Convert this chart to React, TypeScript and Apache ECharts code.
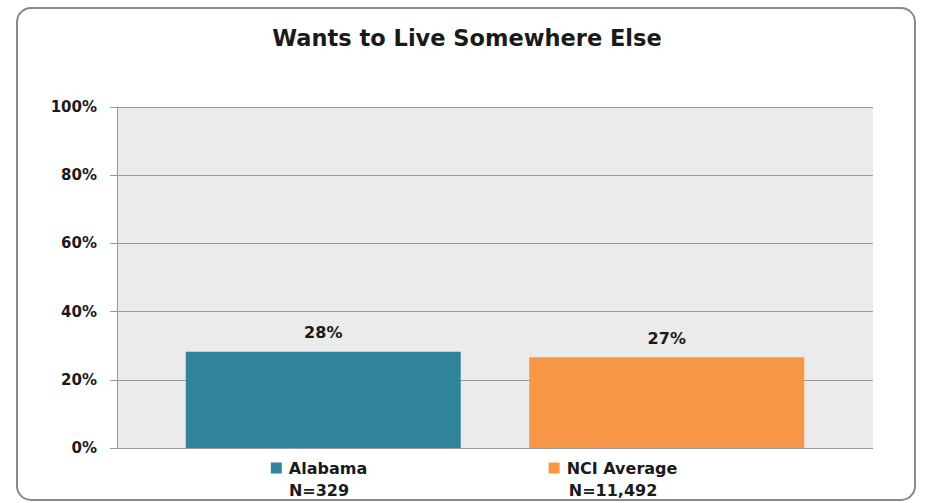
import React, { useEffect, useRef } from "react";
import * as echarts from "echarts";

const categories = ["Alabama", "NCI Average"];
const sampleSizes = ["329", "11,492"];
const values = [28.2, 26.6];
const barColors = ["#31849B", "#F79646"];
const yTicks = [0, 20, 40, 60, 80, 100];

const FONT = "'DejaVu Sans', 'Liberation Sans', sans-serif";
const TXT = "#1a1a1a";

export default function App() {
  const ref = useRef<HTMLDivElement>(null);
  useEffect(() => {
    if (!ref.current) return;
    const chart = echarts.init(ref.current, null, { renderer: "svg" });
    chart.setOption({
      animation: false,
      backgroundColor: "#ffffff",
      title: {
        text: "Wants to Live Somewhere Else",
        left: 462,
        top: 21,
        textAlign: "center",
        textStyle: { fontFamily: FONT, fontWeight: "bold", fontSize: 22.5, color: TXT },
      },
      graphic: [
        {
          type: "rect",
          shape: { x: 17, y: 8, width: 898, height: 492, r: 14 },
          style: { fill: "none", stroke: "#8a8a8a", lineWidth: 2 },
          silent: true,
          z: -1,
        },
      ],
      grid: [
        { left: 117, right: 53, top: 107, bottom: 55, show: true, backgroundColor: "#EBEBEB", borderWidth: 0 },
        { left: 151.5, right: 87.5, top: 107, bottom: 55 },
        { left: 172, right: 166, top: 107, bottom: 55 },
      ],
      xAxis: [
        { type: "value", gridIndex: 0, show: false, min: 0, max: 1 },
        {
          type: "category",
          gridIndex: 1,
          data: categories,
          axisLine: { show: false },
          axisTick: { show: false },
          axisLabel: { show: false },
        },
        {
          type: "category",
          gridIndex: 2,
          data: categories,
          axisLine: { show: false },
          axisTick: { show: false },
          axisLabel: {
            margin: 9,
            lineHeight: 22,
            formatter: (v: string, i: number) => `{sq${i}|}{name|${v}}\n{n|N=${sampleSizes[i]}}`,
            rich: {
              sq0: { width: 11, height: 11, backgroundColor: barColors[0] },
              sq1: { width: 11, height: 11, backgroundColor: barColors[1] },
              name: { fontFamily: FONT, fontWeight: "bold", fontSize: 16, color: TXT, lineHeight: 22, padding: [0, 0, 0, 7] },
              n: { fontFamily: FONT, fontWeight: "bold", fontSize: 16, color: TXT, lineHeight: 22 },
            },
          },
        },
      ],
      yAxis: [
        {
          type: "value",
          gridIndex: 0,
          min: 0,
          max: 100,
          interval: 20,
          axisLine: { show: true, lineStyle: { color: "#9a9a9a", width: 1 } },
          axisTick: { show: true, length: 7, lineStyle: { color: "#9a9a9a" } },
          splitLine: { show: true, lineStyle: { color: "#9a9a9a", width: 1 } },
          axisLabel: {
            margin: 20,
            formatter: (v: number) => (yTicks.includes(v) ? `${v}%` : ""),
            fontFamily: FONT,
            fontWeight: "bold",
            fontSize: 15,
            color: TXT,
          },
        },
        { type: "value", gridIndex: 1, min: 0, max: 100, show: false },
        { type: "value", gridIndex: 2, min: 0, max: 100, show: false },
      ],
      series: [
        {
          type: "bar",
          xAxisIndex: 1,
          yAxisIndex: 1,
          barWidth: 275,
          data: values.map((v, i) => ({ value: v, itemStyle: { color: barColors[i] } })),
          label: {
            show: true,
            position: "top",
            distance: 11,
            formatter: (p: any) => `${Math.round(p.value)}%`,
            fontFamily: FONT,
            fontWeight: "bold",
            fontSize: 16,
            color: TXT,
          },
        },
      ],
    });
    return () => chart.dispose();
  }, []);
  return <div ref={ref} style={{ position: "absolute", left: 0, top: 0, width: 926, height: 503 }} />;
}
